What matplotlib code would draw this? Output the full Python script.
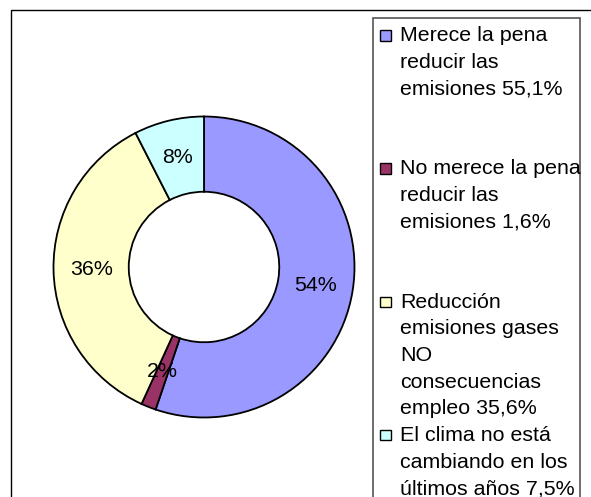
import matplotlib.pyplot as plt
import numpy as np
from matplotlib.patches import Rectangle

# data
values = [55.1, 1.6, 35.6, 7.5]
pct_labels = ['54%', '2%', '36%', '8%']
legend_texts = [
    'Merece la pena\nreducir las\nemisiones 55,1%',
    'No merece la pena\nreducir las\nemisiones 1,6%',
    'Reducción\nemisiones gases\nNO\nconsecuencias\nempleo 35,6%',
    'El clima no está\ncambiando en los\núltimos años 7,5%',
]
colors = ['#9999FF', '#993366', '#FFFFCC', '#CCFFFF']

plt.rcParams['font.family'] = ['Liberation Sans', 'DejaVu Sans']

W, H = 591, 497
fig = plt.figure(figsize=(W / 100, H / 100), dpi=100)
fig.patch.set_facecolor('white')

# pixel coords (from top-left) -> figure fraction
def fx(x):
    return x / W

def fy(y):
    return 1 - y / H

# outer chart frame (runs past right and bottom edges)
fig.patches.append(Rectangle((fx(11), fy(600)), fx(700), fy(10) - fy(600),
                             transform=fig.transFigure, fill=False,
                             edgecolor='black', lw=1.0))

# donut
cx, cy, r = 204, 267, 152
ax = fig.add_axes([fx(cx - r), fy(cy + r), fx(2 * r), fy(cy - r) - fy(cy + r)])
wedges, _ = ax.pie(values, colors=colors, startangle=90, counterclock=False,
                   radius=1.0,
                   wedgeprops=dict(width=0.5, edgecolor='black', linewidth=1.3))
ax.set_xlim(-1.01, 1.01)
ax.set_ylim(-1.01, 1.01)
ax.set_aspect('equal')
ax.axis('off')

# percentage labels in the middle of the ring
for w, lab in zip(wedges, pct_labels):
    ang = np.deg2rad((w.theta1 + w.theta2) / 2)
    ax.text(0.75 * np.cos(ang), 0.75 * np.sin(ang), lab,
            ha='center', va='center', fontsize=15.4, color='black')

# legend box
fig.patches.append(Rectangle((fx(373), fy(600)), fx(580) - fx(373), fy(18) - fy(600),
                             transform=fig.transFigure, fill=True, facecolor='white',
                             edgecolor='#555555', lw=1.2, zorder=0))

base0 = 41
entry_step = 133.3
line_step = 26.7
for i, (txt, col) in enumerate(zip(legend_texts, colors)):
    base = base0 + i * entry_step
    fig.patches.append(Rectangle((fx(380.5), fy(base - 0.5)), fx(10.5), fy(base - 11) - fy(base - 0.5),
                                 transform=fig.transFigure, facecolor=col,
                                 edgecolor='black', lw=1.0))
    for j, line in enumerate(txt.split('\n')):
        fig.text(fx(400), fy(base + j * line_step), line, ha='left', va='baseline',
                 fontsize=15.4, color='black')

fig.savefig('out.png', dpi=100)
